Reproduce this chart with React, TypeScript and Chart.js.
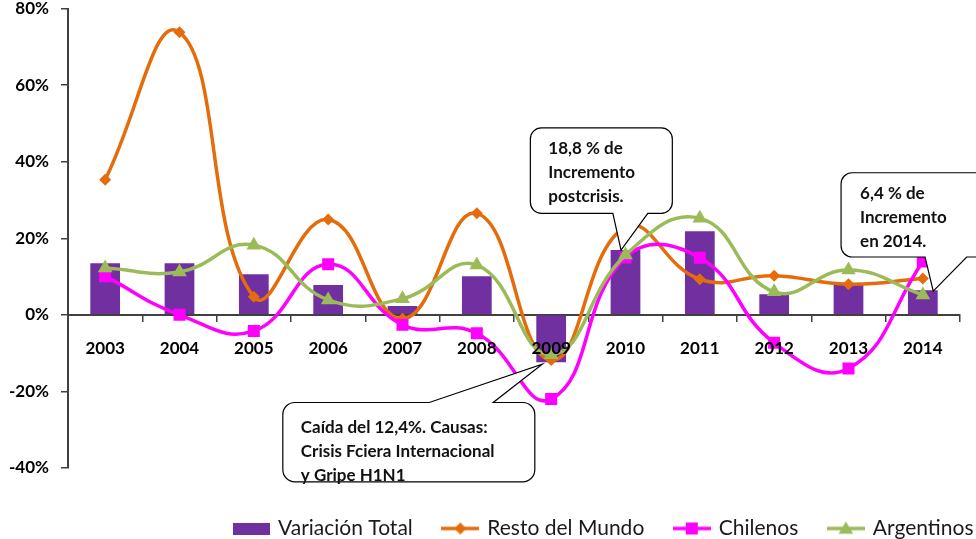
import React, { useEffect, useRef } from 'react';
import { Chart, registerables } from 'chart.js';

Chart.register(...registerables);

// ---------- data ----------
const categories = ['2003', '2004', '2005', '2006', '2007', '2008', '2009', '2010', '2011', '2012', '2013', '2014'];
const variacionTotal = [13.5, 13.5, 10.6, 7.8, 2.3, 10.1, -12.4, 16.9, 21.8, 5.4, 8.0, 6.4];
const restoDelMundo = [35.3, 73.8, 4.7, 24.9, -1.0, 26.5, -11.8, 22.9, 9.3, 10.2, 8.0, 9.5];
const chilenos = [10.1, 0.0, -4.2, 13.2, -2.6, -4.8, -22.0, 15.0, 14.9, -7.3, -14.0, 13.9];
const argentinos = [12.2, 11.2, 18.2, 3.9, 4.2, 13.0, -10.4, 15.6, 25.2, 6.0, 11.7, 5.2];
const seriesNames = ['Variación Total', 'Resto del Mundo', 'Chilenos', 'Argentinos'];
const yTickMin = -40;
const yTickMax = 80;
const yTickStep = 20;

const callout1Lines = ['18,8 % de', 'Incremento', 'postcrisis.'];
const callout2Lines = ['6,4 % de', 'Incremento', 'en 2014.'];
const callout3Lines = ['Caída del 12,4%. Causas:', 'Crisis Fciera Internacional', 'y Gripe H1N1'];

// ---------- styles ----------
const PURPLE = '#7030A0';
const ORANGE = '#E46C0A';
const MAGENTA = '#FF00FF';
const GREEN = '#9BBB59';
const AXIS = '#404040';
const FONT = 'Lato, "Open Sans", sans-serif';

// callout geometry in data space (category index, value)
const callouts = [
  { lines: callout1Lines, x0: 5.72, x1: 7.63, yTop: 48.8, yBot: 26.5, edge: 'bottom', b1: 6.83, b2: 7.30, tipIdx: 6.94, tipVal: variacionTotal[7], padX: 18, padY: 21, r: 11 },
  { lines: callout2Lines, x0: 9.90, x1: 11.95, yTop: 37.1, yBot: 15.1, edge: 'bottom', b1: 11.03, b2: 11.59, tipIdx: 11.14, tipVal: variacionTotal[11] - 0.2, padX: 19, padY: 21, r: 11 },
  { lines: callout3Lines, x0: 2.39, x1: 5.78, yTop: -22.9, yBot: -43.6, edge: 'top', b1: 4.36, b2: 5.22, tipIdx: 5.88, tipVal: variacionTotal[6] - 0.5, padX: 18, padY: 25, r: 12 },
];

function drawMarker(ctx: CanvasRenderingContext2D, kind: string, x: number, y: number, r: number, color: string) {
  ctx.fillStyle = color;
  ctx.beginPath();
  if (kind === 'diamond') {
    ctx.moveTo(x, y - r); ctx.lineTo(x + r, y); ctx.lineTo(x, y + r); ctx.lineTo(x - r, y);
  } else if (kind === 'square') {
    ctx.rect(x - r, y - r, 2 * r, 2 * r);
  } else {
    ctx.moveTo(x, y - r); ctx.lineTo(x + r * 1.05, y + r * 0.75); ctx.lineTo(x - r * 1.05, y + r * 0.75);
  }
  ctx.closePath();
  ctx.fill();
}

function makeLineIcon(color: string, kind: string, r: number) {
  const c = document.createElement('canvas');
  c.width = 38; c.height = 16;
  const ctx = c.getContext('2d')!;
  ctx.strokeStyle = color; ctx.lineWidth = 3.5;
  ctx.beginPath(); ctx.moveTo(0, 8); ctx.lineTo(38, 8); ctx.stroke();
  drawMarker(ctx, kind, 19, 8, r, color);
  return c;
}

function makeBoxIcon(color: string) {
  const c = document.createElement('canvas');
  c.width = 37; c.height = 12;
  const ctx = c.getContext('2d')!;
  ctx.fillStyle = color; ctx.fillRect(0, 0, 37, 12);
  return c;
}

const calloutPlugin = {
  id: 'callouts',
  afterDraw(chart: any) {
    const { ctx, scales } = chart;
    const xs = scales.x, ys = scales.y;
    ctx.save();
    for (const c of callouts) {
      const x0 = xs.getPixelForValue(c.x0), x1 = xs.getPixelForValue(c.x1);
      const y0 = ys.getPixelForValue(c.yTop), y1 = ys.getPixelForValue(c.yBot);
      const b1 = xs.getPixelForValue(c.b1), b2 = xs.getPixelForValue(c.b2);
      const tx = xs.getPixelForValue(c.tipIdx), ty = ys.getPixelForValue(c.tipVal);
      const r = c.r;
      ctx.beginPath();
      ctx.moveTo(x0 + r, y0);
      if (c.edge === 'top') { ctx.lineTo(b1, y0); ctx.lineTo(tx, ty); ctx.lineTo(b2, y0); }
      ctx.lineTo(x1 - r, y0); ctx.arcTo(x1, y0, x1, y0 + r, r);
      ctx.lineTo(x1, y1 - r); ctx.arcTo(x1, y1, x1 - r, y1, r);
      if (c.edge === 'bottom') { ctx.lineTo(b2, y1); ctx.lineTo(tx, ty); ctx.lineTo(b1, y1); }
      ctx.lineTo(x0 + r, y1); ctx.arcTo(x0, y1, x0, y1 - r, r);
      ctx.lineTo(x0, y0 + r); ctx.arcTo(x0, y0, x0 + r, y0, r);
      ctx.closePath();
      ctx.fillStyle = '#ffffff';
      ctx.fill();
      ctx.lineWidth = 1.2;
      ctx.strokeStyle = '#000000';
      ctx.stroke();
      ctx.fillStyle = '#111111';
      ctx.font = `bold 17px ${FONT}`;
      ctx.textBaseline = 'middle';
      ctx.textAlign = 'left';
      c.lines.forEach((line, i) => ctx.fillText(line, x0 + c.padX, y0 + c.padY + i * 24));
    }
    ctx.restore();
  },
};

const legendShiftPlugin = {
  id: 'legendShift',
  afterLayout(chart: any) {
    const lg = chart.legend;
    if (!lg) return;
    const h = lg.bottom - lg.top;
    lg.top = 487; lg.bottom = 487 + h;
    lg.left += 124; lg.right += 124;
  },
};

export default function App() {
  const canvasRef = useRef<HTMLCanvasElement>(null);

  useEffect(() => {
    const icons = [
      makeBoxIcon(PURPLE),
      makeLineIcon(ORANGE, 'diamond', 6),
      makeLineIcon(MAGENTA, 'square', 6),
      makeLineIcon(GREEN, 'triangle', 7),
    ];
    const chart = new Chart(canvasRef.current!, {
      type: 'bar',
      data: {
        labels: categories,
        datasets: [
          { type: 'bar', label: seriesNames[0], data: variacionTotal, backgroundColor: PURPLE, categoryPercentage: 0.8, barPercentage: 0.5, order: 4 } as any,
          { type: 'line', label: seriesNames[1], data: restoDelMundo, borderColor: ORANGE, backgroundColor: ORANGE, borderWidth: 3.5, tension: 0.45, pointStyle: 'rectRot', pointRadius: 6, pointBorderWidth: 0, order: 3 },
          { type: 'line', label: seriesNames[2], data: chilenos, borderColor: MAGENTA, backgroundColor: MAGENTA, borderWidth: 3.5, tension: 0.45, pointStyle: 'rect', pointRadius: 8.5, pointBorderWidth: 0, order: 2 },
          { type: 'line', label: seriesNames[3], data: argentinos, borderColor: GREEN, backgroundColor: GREEN, borderWidth: 3.5, tension: 0.45, pointStyle: 'triangle', pointRadius: 8.5, pointBorderWidth: 0, order: 1 },
        ],
      },
      options: {
        animation: false,
        responsive: false,
        layout: { padding: { left: 0, right: 16, top: 7, bottom: 9 } },
        plugins: {
          tooltip: { enabled: false },
          legend: {
            position: 'bottom',
            align: 'center',
            labels: {
              usePointStyle: true,
              pointStyleWidth: 33,
              boxHeight: 12,
              padding: 31,
              color: '#1a1a1a',
              font: { family: FONT, size: 21 },
              generateLabels: (ch: any) => {
                const items = Chart.defaults.plugins.legend.labels.generateLabels(ch);
                items.forEach((it: any) => { it.pointStyle = icons[it.datasetIndex]; it.lineWidth = 0; it.rotation = 0; });
                return items.sort((a: any, b: any) => a.datasetIndex - b.datasetIndex);
              },
            },
          },
        },
        scales: {
          x: {
            type: 'category',
            position: { y: 0 } as any,
            grid: { display: true, drawOnChartArea: false, drawTicks: true, tickLength: 6, color: AXIS, lineWidth: 1.5, offset: true },
            border: { display: true, color: AXIS, width: 2 },
            ticks: { z: 1, color: '#000', font: { family: FONT, size: 17, weight: 'bold' }, padding: 17, maxRotation: 0, autoSkip: false },
          },
          y: {
            min: yTickMin,
            max: yTickMax,
            afterFit: (s: any) => { s.width = 68; s.paddingTop = 0; s.paddingBottom = 0; },
            grid: { display: true, drawOnChartArea: false, drawTicks: true, tickLength: 7, color: AXIS, lineWidth: 1.5 },
            border: { display: true, color: AXIS, width: 2 },
            ticks: { stepSize: yTickStep, padding: 12, color: '#000', font: { family: FONT, size: 17, weight: 'bold' }, callback: (v: any) => `${v}%` },
          },
        },
      },
      plugins: [calloutPlugin, legendShiftPlugin],
    });
    return () => chart.destroy();
  }, []);

  return (
    <div style={{ position: 'fixed', left: 0, top: 0, width: 976, height: 539, background: '#fff' }}>
      <canvas ref={canvasRef} width={976} height={539} style={{ display: 'block' }} />
    </div>
  );
}
